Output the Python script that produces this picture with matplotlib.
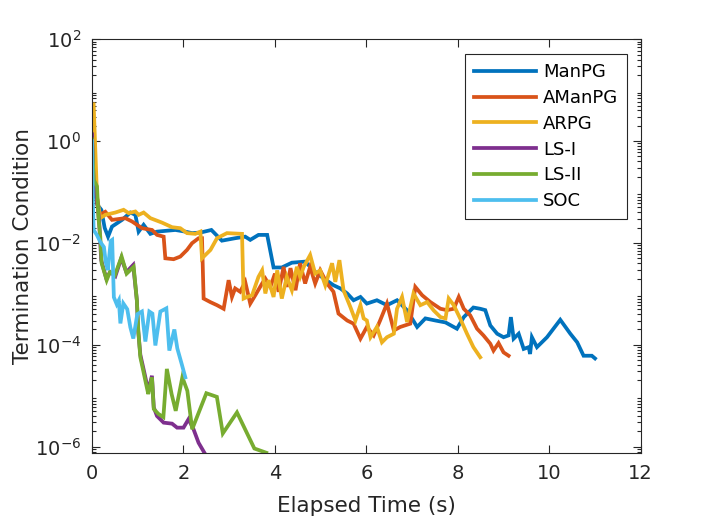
import math
import matplotlib
matplotlib.use("Agg")
import matplotlib.pyplot as plt
from matplotlib.ticker import LogLocator, NullFormatter, MultipleLocator, FuncFormatter

# couleurs MATLAB par defaut
couleurs = ["#0072BD", "#D95319", "#EDB120", "#7E2F8E", "#77AC30", "#4DBEEE"]
noms = ["ManPG", "AManPG", "ARPG", "LS-I", "LS-II", "SOC"]

manpg_t = [0.007, 0.05, 0.116, 0.203, 0.276, 0.35, 0.437, 0.656, 0.838, 0.947, 1.019, 1.128,
           1.276, 1.421, 1.822, 2.04, 2.187, 2.37, 2.61, 2.84, 3.13, 3.35, 3.46, 3.64, 3.83,
           3.97, 4.15, 4.37, 4.66, 4.92, 5.28, 5.43, 5.58, 5.72, 5.87, 6.01, 6.23, 6.45, 6.67,
           6.89, 7.11, 7.29, 7.51, 7.73, 7.98, 8.13, 8.34, 8.49, 8.60, 8.71, 8.86, 9.0, 9.11,
           9.16, 9.22, 9.33, 9.44, 9.55, 9.58, 9.62, 9.73, 9.95, 10.24, 10.46, 10.61, 10.75,
           10.93, 11.0]
manpg_err = [0.69, 0.111, 0.0563, 0.0448, 0.0198, 0.0133, 0.021, 0.0284, 0.0396, 0.0357, 0.0167,
             0.0227, 0.0151, 0.0167, 0.018, 0.0167, 0.0156, 0.016, 0.018, 0.0111, 0.0124, 0.0133,
             0.0115, 0.0144, 0.0144, 3.3e-3, 3.3e-3, 4.1e-3, 4.3e-3, 2.5e-3, 1.48e-3, 1.28e-3,
             1.02e-3, 7.5e-4, 8.7e-4, 6.45e-4, 7.5e-4, 6.0e-4, 7.5e-4, 4.75e-4, 2.24e-4, 3.3e-4,
             3.0e-4, 2.75e-4, 2.07e-4, 3.5e-4, 5.4e-4, 5.1e-4, 4.8e-4, 2.4e-4, 1.65e-4, 1.41e-4,
             1.53e-4, 3.5e-4, 1.32e-4, 1.65e-4, 8.3e-5, 9.0e-5, 6.6e-5, 1.41e-4, 9.0e-5, 1.41e-4,
             3.1e-4, 1.65e-4, 1.12e-4, 6.1e-5, 6.1e-5, 5.4e-5]

amanpg_t = [0.0, 0.05, 0.116, 0.166, 0.29, 0.437, 0.728, 0.875, 1.093, 1.312, 1.421, 1.566,
            1.603, 1.784, 1.93, 2.077, 2.187, 2.331, 2.405, 2.44, 2.587, 2.733, 2.878, 2.987,
            3.06, 3.13, 3.24, 3.35, 3.46, 3.57, 3.72, 3.79, 3.90, 4.0, 4.08, 4.19, 4.26, 4.34,
            4.45, 4.55, 4.66, 4.77, 4.88, 4.99, 5.14, 5.28, 5.39, 5.58, 5.72, 5.87, 6.01, 6.16,
            6.30, 6.45, 6.60, 6.74, 6.96, 7.07, 7.22, 7.40, 7.62, 7.76, 7.91, 8.02, 8.13, 8.27,
            8.42, 8.56, 8.71, 8.78, 8.89, 9.0, 9.11]
amanpg_err = [4.2, 0.435, 0.0563, 0.0357, 0.041, 0.0284, 0.0307, 0.0264, 0.0195, 0.018, 0.0144,
              0.0133, 5.0e-3, 4.8e-3, 5.4e-3, 7.3e-3, 9.9e-3, 0.0124, 0.0124, 8.1e-4, 6.9e-4,
              6.0e-4, 5.1e-4, 1.86e-3, 8.7e-4, 1.28e-3, 1.1e-3, 1.72e-3, 6.45e-4, 9.4e-4, 1.6e-3,
              2.0e-3, 1.37e-3, 2.5e-3, 1.1e-3, 3.4e-3, 1.37e-3, 3.2e-3, 1.18e-3, 4.0e-3, 1.6e-3,
              3.4e-3, 1.6e-3, 2.9e-3, 1.6e-3, 1.1e-3, 4.1e-4, 3.0e-4, 2.6e-4, 1.32e-4, 2.24e-4,
              1.53e-4, 3.0e-4, 6.45e-4, 1.91e-4, 2.24e-4, 2.6e-4, 1.37e-3, 9.4e-4, 6.9e-4, 5.1e-4,
              4.8e-4, 5.1e-4, 8.7e-4, 5.1e-4, 3.8e-4, 2.07e-4, 1.53e-4, 1.05e-4, 7.7e-5, 1.08e-4,
              7.1e-5, 6.1e-5]

arpg_t = [0.0, 0.035, 0.109, 0.18, 0.29, 0.51, 0.69, 0.80, 0.947, 1.02, 1.128, 1.276, 1.53,
          1.75, 1.93, 2.077, 2.26, 2.37, 2.405, 2.59, 2.733, 2.95, 3.28, 3.315, 3.39, 3.50,
          3.64, 3.72, 3.79, 3.86, 3.97, 4.05, 4.15, 4.26, 4.37, 4.48, 4.55, 4.63, 4.77, 4.88,
          4.99, 5.10, 5.25, 5.32, 5.41, 5.50, 5.65, 5.76, 5.87, 5.94, 6.01, 6.09, 6.23, 6.34,
          6.45, 6.60, 6.67, 6.78, 6.89, 7.03, 7.18, 7.33, 7.47, 7.62, 7.73, 7.80, 7.91, 8.05,
          8.20, 8.34, 8.49]
arpg_err = [5.3, 5.3, 0.082, 0.0307, 0.0357, 0.0396, 0.0448, 0.0386, 0.0415, 0.0357, 0.0396,
            0.0307, 0.0251, 0.0204, 0.0195, 0.0156, 0.0151, 0.0167, 5.0e-3, 7.3e-3, 0.0124,
            0.0156, 0.0151, 8.1e-4, 8.7e-4, 9.4e-4, 2.16e-3, 2.9e-3, 1.02e-3, 1.86e-3, 8.7e-4,
            2.9e-3, 8.1e-4, 2.16e-3, 1.18e-3, 3.4e-3, 2.16e-3, 3.4e-3, 5.8e-3, 2.5e-3, 2.9e-3,
            1.48e-3, 4.0e-3, 1.72e-3, 4.6e-3, 1.18e-3, 5.5e-4, 3.0e-4, 6.0e-4, 3.3e-4, 3.0e-4,
            1.41e-4, 2.24e-4, 1.12e-4, 1.41e-4, 1.65e-4, 5.1e-4, 8.7e-4, 2.8e-4, 1.02e-3, 6.0e-4,
            6.9e-4, 4.75e-4, 3.5e-4, 3.3e-4, 8.1e-4, 6.0e-4, 3.3e-4, 1.65e-4, 9.0e-5, 5.7e-5]

ls1_t = [0.0, 0.035, 0.116, 0.16, 0.20, 0.31, 0.40, 0.51, 0.64, 0.75, 0.90, 0.98, 1.01, 1.056,
         1.14, 1.23, 1.31, 1.35, 1.42, 1.566, 1.75, 1.86, 2.0, 2.11, 2.22, 2.33, 2.48, 2.54]
ls1_err = [1.36, 0.14, 0.0706, 0.0227, 4.6e-3, 2.04e-3, 2.67e-3, 2.23e-3, 5.06e-3, 2.67e-3,
           3.7e-3, 7.5e-4, 1.86e-4, 6.4e-5, 2.95e-5, 1.25e-5, 2.47e-5, 5.9e-6, 4.0e-6, 2.96e-6,
           2.83e-6, 2.36e-6, 2.36e-6, 3.46e-6, 2.19e-6, 1.19e-6, 7.0e-7, 5.2e-7]

ls2_t = [0.0, 0.035, 0.109, 0.138, 0.18, 0.21, 0.32, 0.39, 0.50, 0.647, 0.757, 0.91, 0.98, 1.012,
         1.056, 1.12, 1.19, 1.23, 1.31, 1.35, 1.45, 1.56, 1.636, 1.74, 1.83, 1.975, 2.084, 2.19,
         2.50, 2.73, 2.86, 3.17, 3.55, 3.81]
ls2_err = [1.08, 0.175, 0.129, 0.033, 0.0133, 4.0e-3, 1.86e-3, 2.7e-3, 2.33e-3, 5.4e-3, 2.5e-3,
           3.4e-3, 7.5e-4, 1.91e-4, 5.7e-5, 3.1e-5, 1.57e-5, 1.08e-5, 2.3e-5, 5.5e-6, 4.4e-6,
           3.8e-6, 3.36e-5, 1.08e-5, 5.05e-6, 2.3e-5, 1.25e-5, 2.2e-6, 1.12e-5, 9.5e-6, 1.82e-6,
           4.7e-6, 9.2e-7, 7.6e-7]

soc_t = [0.0, 0.017, 0.035, 0.105, 0.18, 0.26, 0.30, 0.345, 0.41, 0.44, 0.477, 0.54, 0.586,
         0.62, 0.684, 0.77, 0.838, 0.903, 0.99, 1.09, 1.166, 1.253, 1.32, 1.385, 1.494, 1.625,
         1.69, 1.80, 1.865, 1.964, 2.04]
soc_err = [1.0, 0.0706, 0.018, 0.0144, 0.0105, 8.3e-3, 4.2e-3, 2.93e-3, 0.011, 0.0115, 8.6e-4,
           6.25e-4, 7.5e-4, 2.63e-4, 6.5e-4, 5.0e-4, 2.2e-4, 1.33e-4, 4.0e-4, 4.5e-4, 1.16e-4,
           4.5e-4, 4.1e-4, 9.7e-5, 4.5e-4, 5.2e-4, 7.7e-5, 2.0e-4, 8.5e-5, 4.1e-5, 2.3e-5]

series = [(manpg_t, manpg_err), (amanpg_t, amanpg_err), (arpg_t, arpg_err),
          (ls1_t, ls1_err), (ls2_t, ls2_err), (soc_t, soc_err)]

gris = "#262626"
plt.rcParams["font.family"] = "DejaVu Sans"

fig = plt.figure(figsize=(7.08, 5.21), dpi=100)
ax = fig.add_axes([0.13, 0.13, 0.775, 0.7946])

for (t, err), c, nom in zip(series, couleurs, noms):
    ax.plot(t, err, color=c, lw=2.7, label=nom, solid_joinstyle="miter")

ax.set_yscale("log")
ax.set_xlim(0, 12)
ax.set_ylim(10 ** -6.13, 100)
ax.xaxis.set_major_locator(MultipleLocator(2))
ax.set_yticks([1e-6, 1e-4, 1e-2, 1, 100])
ax.yaxis.set_major_formatter(FuncFormatter(
    lambda v, p: r"$\mathregular{10^{%d}}$" % round(math.log10(v))))
ax.yaxis.set_minor_locator(LogLocator(base=10, subs=range(2, 10), numticks=20))
ax.yaxis.set_minor_formatter(NullFormatter())

ax.tick_params(which="both", direction="in", top=True, right=True, colors=gris,
               labelsize=14, width=0.8)
ax.tick_params(which="major", length=6)
ax.tick_params(which="minor", length=3)
ax.tick_params(axis="x", pad=8)
ax.tick_params(axis="y", pad=8)
for s in ax.spines.values():
    s.set_color(gris)
    s.set_linewidth(0.8)

ax.set_xlabel("Elapsed Time (s)", fontsize=15.5, color=gris, labelpad=9)
ax.set_ylabel("Termination Condition", fontsize=15.5, color=gris, labelpad=1)

leg = ax.legend(loc="upper right", bbox_to_anchor=(0.975, 0.964), borderaxespad=0,
                fontsize=13, handlelength=3.4, handletextpad=0.4, labelspacing=0.43,
                fancybox=False, framealpha=1, edgecolor=gris, borderpad=0.5)
leg.get_frame().set_linewidth(0.8)
for txt in leg.get_texts():
    txt.set_color("black")

fig.savefig("out.png", dpi=100)
